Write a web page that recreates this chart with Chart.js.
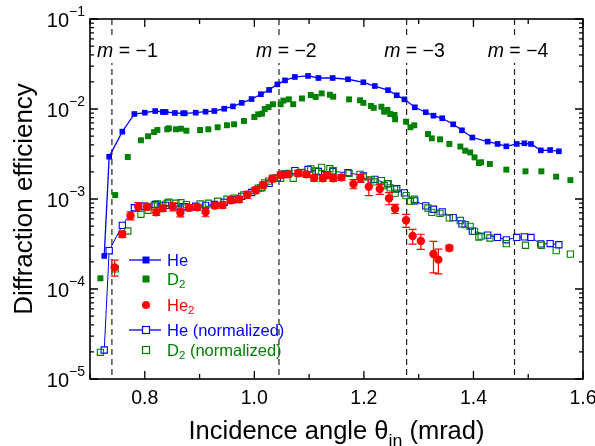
<!DOCTYPE html>
<html>
<head>
<meta charset="utf-8">
<script src="https://cdn.jsdelivr.net/npm/chart.js@4.4.1/dist/chart.umd.min.js"></script>
<style>
html,body{margin:0;padding:0;background:#fff}
#wrap{width:595px;height:446px}
</style>
</head>
<body>
<div id="wrap"><canvas id="c"></canvas></div>
<script>
// He (filled blue squares + line)
const heX=[0.726,0.735,0.759,0.781,0.800,0.819,0.833,0.838,0.855,0.870,0.873,0.893,0.911,0.927,0.945,0.961,0.977,0.995,1.012,1.027,1.042,1.056,1.074,1.098,1.117,1.143,1.171,1.199,1.220,1.244,1.260,1.274,1.293,1.313,1.327,1.343,1.363,1.379,1.398,1.426,1.444,1.460,1.479,1.493,1.505,1.523,1.540,1.556]
const heY=[2.33e-4,2.95e-3,5.6e-3,8.8e-3,9.1e-3,9.5e-3,9.27e-3,9.27e-3,9.03e-3,8.96e-3,8.96e-3,9.1e-3,9.33e-3,9.5e-3,1.007e-2,1.07e-2,1.17e-2,1.29e-2,1.46e-2,1.63e-2,1.88e-2,2.08e-2,2.27e-2,2.33e-2,2.21e-2,2.21e-2,2.14e-2,1.98e-2,1.80e-2,1.62e-2,1.42e-2,1.28e-2,1.045e-2,9.2e-3,8.43e-3,7.89e-3,6.76e-3,5.8e-3,4.82e-3,4.34e-3,4.09e-3,3.85e-3,4.09e-3,4.16e-3,4.09e-3,3.47e-3,3.50e-3,3.39e-3]
// He (normalized), same angles as He
const heNormY=[2.1e-5,2.67e-4,5.1e-4,8.0e-4,8.3e-4,8.7e-4,8.5e-4,8.5e-4,8.25e-4,8.2e-4,8.2e-4,8.3e-4,8.5e-4,8.7e-4,9.2e-4,9.8e-4,1.07e-3,1.18e-3,1.33e-3,1.49e-3,1.72e-3,1.90e-3,2.07e-3,2.13e-3,2.02e-3,2.02e-3,1.96e-3,1.81e-3,1.65e-3,1.48e-3,1.30e-3,1.17e-3,9.55e-4,8.4e-4,7.7e-4,7.2e-4,6.2e-4,5.3e-4,4.4e-4,3.97e-4,3.74e-4,3.52e-4,3.74e-4,3.8e-4,3.74e-4,3.17e-4,3.2e-4,3.1e-4]

// D2 (filled green squares)
const d2X=[0.719,0.746,0.769,0.793,0.806,0.817,0.823,0.841,0.844,0.857,0.866,0.876,0.901,0.916,0.933,0.950,0.963,0.981,1.000,1.007,1.014,1.019,1.026,1.034,1.048,1.053,1.063,1.071,1.087,1.103,1.112,1.123,1.138,1.144,1.173,1.193,1.199,1.213,1.218,1.232,1.237,1.243,1.248,1.256,1.257,1.277,1.285,1.292,1.317,1.324,1.339,1.356,1.376,1.385,1.394,1.402,1.410,1.414,1.430,1.460,1.495,1.524,1.551,1.577]
const d2Y=[1.315e-4,1.107e-3,2.93e-3,4.49e-3,4.98e-3,5.55e-3,5.84e-3,5.95e-3,6.1e-3,5.95e-3,6.04e-3,5.74e-3,5.84e-3,5.95e-3,6.27e-3,6.6e-3,6.76e-3,7.36e-3,8.15e-3,8.73e-3,8.87e-3,1.0e-2,1.05e-2,1.13e-2,1.13e-2,1.24e-2,1.28e-2,1.13e-2,1.31e-2,1.43e-2,1.36e-2,1.49e-2,1.44e-2,1.37e-2,1.28e-2,1.25e-2,1.17e-2,1.08e-2,1.03e-2,1.06e-2,9.33e-3,9.75e-3,8.8e-3,8.58e-3,7.69e-3,7.23e-3,6.27e-3,6.59e-3,5.27e-3,4.72e-3,4.6e-3,4.09e-3,3.83e-3,3.44e-3,3.29e-3,2.9e-3,2.51e-3,2.56e-3,2.45e-3,2.12e-3,2.03e-3,2.03e-3,1.77e-3,1.62e-3]
// D2 (normalized), same angles as D2
const d2NormY=[1.98e-5,1.67e-4,4.41e-4,6.77e-4,7.5e-4,8.36e-4,8.8e-4,8.97e-4,9.2e-4,8.97e-4,9.1e-4,8.65e-4,8.8e-4,8.97e-4,9.45e-4,9.95e-4,1.02e-3,1.11e-3,1.23e-3,1.32e-3,1.34e-3,1.51e-3,1.58e-3,1.70e-3,1.70e-3,1.87e-3,1.93e-3,1.70e-3,1.97e-3,2.16e-3,2.05e-3,2.25e-3,2.17e-3,2.06e-3,1.93e-3,1.88e-3,1.76e-3,1.63e-3,1.55e-3,1.60e-3,1.41e-3,1.47e-3,1.33e-3,1.29e-3,1.16e-3,1.09e-3,9.45e-4,9.93e-4,7.94e-4,7.11e-4,6.93e-4,6.16e-4,5.77e-4,5.18e-4,4.96e-4,4.37e-4,3.78e-4,3.86e-4,3.69e-4,3.19e-4,3.06e-4,3.06e-4,2.67e-4,2.44e-4]

// He2 (red circles with error bars)
const he2X=[0.745,0.759,0.774,0.788,0.804,0.821,0.833,0.851,0.865,0.881,0.896,0.911,0.928,0.942,0.957,0.972,0.987,1.003,1.016,1.033,1.048,1.061,1.080,1.095,1.109,1.125,1.132,1.144,1.159,1.181,1.194,1.209,1.229,1.246,1.257,1.277,1.289,1.304,1.327,1.336,1.356]
const he2Y=[1.74e-4,4.06e-4,6.52e-4,8.2e-4,8.2e-4,7.11e-4,7.88e-4,8.2e-4,7.05e-4,8.0e-4,8.09e-4,7.18e-4,8.44e-4,8.58e-4,9.68e-4,9.93e-4,1.117e-3,1.26e-3,1.43e-3,1.68e-3,1.85e-3,1.88e-3,1.93e-3,1.88e-3,1.71e-3,1.70e-3,1.83e-3,1.70e-3,1.74e-3,1.47e-3,1.70e-3,1.37e-3,1.29e-3,1.02e-3,7.8e-4,5.8e-4,3.88e-4,3.41e-4,2.45e-4,2.12e-4,2.86e-4]
const he2Err=[3.5e-5,3.1e-5,6.7e-5,9.4e-5,6.3e-5,5.5e-5,6e-5,8.4e-5,7.2e-5,6.1e-5,6.2e-5,8.3e-5,6.5e-5,6.6e-5,7.4e-5,7.6e-5,1.0e-4,9.7e-5,1.1e-4,1.3e-4,1.4e-4,1.4e-4,1.5e-4,1.4e-4,1.3e-4,1.3e-4,1.4e-4,1.3e-4,1.3e-4,1.7e-4,1.7e-4,2.8e-4,1.65e-4,1.57e-4,9e-5,9.6e-5,7.2e-5,6.5e-5,9.4e-5,6.5e-5,2e-5]

// diffraction orders
const mLineX=[0.740,1.045,1.278,1.475]
const mLabelX=[0.713,1.003,1.237,1.426]
const mLabels=["\u22121","\u22122","\u22123","\u22124"]

const xTicks=[0.7,0.8,0.9,1.0,1.1,1.2,1.3,1.4,1.5,1.6]
const yDecades=[-5,-4,-3,-2,-1]

const BLUE="#0000ff",GREEN="#008000",RED="#ff0000"
const FONT="'Liberation Sans', Arial, sans-serif"

function pts(xs,ys){return xs.map((x,i)=>({x:x,y:ys[i]}))}

// text with an optional sub/superscript part
function richText(ctx,x,y,parts,size){
let cx=x
parts.forEach(p=>{
let s=p.sub||p.sup?size*0.7:size
ctx.font=(p.it?"italic ":"")+s+"px "+FONT
let dy=p.sub?size*0.3:(p.sup?-size*0.42:0)
ctx.fillText(p.t,cx,y+dy)
cx+=ctx.measureText(p.t).width
})
return cx-x
}
function richWidth(ctx,parts,size){
let w=0
parts.forEach(p=>{
let s=p.sub||p.sup?size*0.7:size
ctx.font=(p.it?"italic ":"")+s+"px "+FONT
w+=ctx.measureText(p.t).width
})
return w
}

const behind={
id:"behind",
beforeDatasetsDraw(chart){
const ctx=chart.ctx,xs=chart.scales.x,a=chart.chartArea
ctx.save()
ctx.strokeStyle="#222"
ctx.lineWidth=1.2
ctx.setLineDash([6,4])
mLineX.forEach(v=>{
let px=xs.getPixelForValue(v)
ctx.beginPath();ctx.moveTo(px,a.top);ctx.lineTo(px,a.bottom);ctx.stroke()
})
ctx.setLineDash([])
// order labels with a white box
ctx.textBaseline="alphabetic"
mLabelX.forEach((v,i)=>{
let px=xs.getPixelForValue(v)
let parts=[{t:"m",it:true},{t:" = "+mLabels[i]}]
let w=richWidth(ctx,parts,19.5)
ctx.fillStyle="#fff"
ctx.fillRect(px-2,38,w+4,25)
ctx.fillStyle="#000"
richText(ctx,px,57,parts,19.5)
})
ctx.restore()
}
}

const errorBars={
id:"errorBars",
afterDatasetsDraw(chart){
const ctx=chart.ctx,ys=chart.scales.y
const meta=chart.getDatasetMeta(2)
ctx.save()
ctx.strokeStyle=RED
ctx.lineWidth=1.2
meta.data.forEach((p,i)=>{
let v=he2Y[i],e=he2Err[i]
let y1=ys.getPixelForValue(v+e),y2=ys.getPixelForValue(Math.max(v-e,1e-6))
ctx.beginPath()
ctx.moveTo(p.x,y1);ctx.lineTo(p.x,y2)
ctx.moveTo(p.x-4,y1);ctx.lineTo(p.x+4,y1)
ctx.moveTo(p.x-4,y2);ctx.lineTo(p.x+4,y2)
ctx.stroke()
})
ctx.restore()
}
}

const frame={
id:"frame",
afterDraw(chart){
const ctx=chart.ctx,xs=chart.scales.x,ys=chart.scales.y,a=chart.chartArea
ctx.save()
ctx.strokeStyle="#000"
ctx.lineWidth=1.6
ctx.strokeRect(a.left,a.top,a.right-a.left,a.bottom-a.top)
ctx.lineWidth=1.3
ctx.beginPath()
xTicks.forEach(v=>{
let px=xs.getPixelForValue(v)
let len=Math.round(v*10)%2===0?8:5
ctx.moveTo(px,a.bottom);ctx.lineTo(px,a.bottom-len)
ctx.moveTo(px,a.top);ctx.lineTo(px,a.top+len)
})
yDecades.forEach(d=>{
for(let k=1;k<10;k++){
if(d===-1&&k>1) break
let py=ys.getPixelForValue(k*Math.pow(10,d))
let len=k===1?8:4
ctx.moveTo(a.left,py);ctx.lineTo(a.left+len,py)
ctx.moveTo(a.right,py);ctx.lineTo(a.right-len,py)
}
})
ctx.stroke()

// x tick labels
ctx.fillStyle="#000"
ctx.textAlign="center"
ctx.textBaseline="middle"
ctx.font="19.5px "+FONT
xTicks.forEach(v=>{
if(Math.round(v*10)%2===0&&v>0.75) ctx.fillText(v.toFixed(1),xs.getPixelForValue(v),a.bottom+20)
})
ctx.textAlign="left"

// y tick labels 10^n
yDecades.forEach(d=>{
let py=ys.getPixelForValue(Math.pow(10,d))
let parts=[{t:"10"},{t:"\u2212"+(-d),sup:true}]
let w=richWidth(ctx,parts,20)
richText(ctx,a.left-5-w,py+2,parts,20)
})

// axis titles
ctx.textBaseline="alphabetic"
let tparts=[{t:"Incidence angle \u03b8"},{t:"in",sub:true},{t:" (mrad)"}]
let tw=richWidth(ctx,tparts,25.5)
richText(ctx,(a.left+a.right)/2-tw/2,439,tparts,25.5)
ctx.save()
ctx.translate(32,(a.top+a.bottom)/2)
ctx.rotate(-Math.PI/2)
ctx.font="26px "+FONT
ctx.textAlign="center"
ctx.fillText("Diffraction efficiency",0,0)
ctx.restore()

// legend
const rows=[
{y:260,c:BLUE,line:true,fill:true,shape:"rect",parts:[{t:"He"}]},
{y:279,c:GREEN,line:false,fill:true,shape:"rect",parts:[{t:"D"},{t:"2",sub:true}]},
{y:305,c:RED,line:false,fill:true,shape:"circle",parts:[{t:"He"},{t:"2",sub:true}]},
{y:330,c:BLUE,line:true,fill:false,shape:"rect",parts:[{t:"He (normalized)"}]},
{y:350,c:GREEN,line:false,fill:false,shape:"rect",parts:[{t:"D"},{t:"2",sub:true},{t:" (normalized)"}]}
]
rows.forEach(r=>{
ctx.strokeStyle=r.c
ctx.fillStyle=r.c
if(r.line){
ctx.lineWidth=1.3
ctx.beginPath();ctx.moveTo(129,r.y);ctx.lineTo(161,r.y);ctx.stroke()
}
if(r.shape==="circle"){
ctx.beginPath();ctx.arc(146,r.y,4,0,Math.PI*2);ctx.fill()
}else if(r.fill){
ctx.fillRect(142.5,r.y-3.5,7,7)
}else{
ctx.fillStyle="#fff";ctx.fillRect(142.5,r.y-3.5,7,7)
ctx.lineWidth=1.2;ctx.strokeRect(142.5,r.y-3.5,7,7)
}
ctx.fillStyle=r.c
ctx.textBaseline="middle"
richText(ctx,167,r.y+1,r.parts,16.5)
})
ctx.restore()
}
}

new Chart(document.getElementById("c"),{
type:"scatter",
data:{
datasets:[
{label:"He",data:pts(heX,heY),showLine:true,borderColor:BLUE,backgroundColor:BLUE,borderWidth:1.3,pointStyle:"rect",pointRadius:4,pointBorderWidth:0,order:3},
{label:"D2",data:pts(d2X,d2Y),borderColor:GREEN,backgroundColor:GREEN,pointStyle:"rect",pointRadius:4.2,pointBorderWidth:0,order:4},
{label:"He2",data:pts(he2X,he2Y),borderColor:RED,backgroundColor:RED,pointStyle:"circle",pointRadius:4.2,pointBorderWidth:0,order:0},
{label:"He (normalized)",data:pts(heX,heNormY),showLine:true,borderColor:BLUE,backgroundColor:BLUE,borderWidth:1,pointStyle:"rect",pointRadius:4.4,pointBorderWidth:1.1,pointBackgroundColor:"#fff",order:2},
{label:"D2 (normalized)",data:pts(d2X,d2NormY),borderColor:GREEN,backgroundColor:"rgba(0,0,0,0)",pointStyle:"rect",pointRadius:4.4,pointBorderWidth:1.1,pointBackgroundColor:"rgba(0,0,0,0)",order:1}
]
},
options:{
responsive:true,
maintainAspectRatio:false,
animation:false,
layout:{padding:{top:19,right:12,left:0,bottom:0}},
plugins:{legend:{display:false},tooltip:{enabled:false}},
scales:{
x:{
type:"linear",min:0.7,max:1.6,
afterFit:s=>{s.height=67},
grid:{display:false},border:{display:false},
ticks:{display:false}
},
y:{
type:"logarithmic",min:1e-5,max:1e-1,
afterFit:s=>{s.width=90},
grid:{display:false},border:{display:false},
ticks:{display:false}
}
}
},
plugins:[behind,errorBars,frame]
})
</script>
</body>
</html>
